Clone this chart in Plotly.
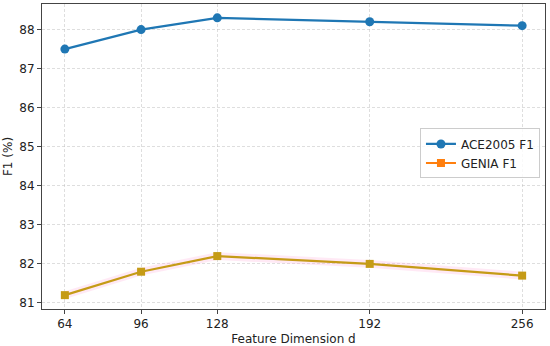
import plotly.graph_objects as go

dims = [64, 96, 128, 192, 256]
ace_f1 = [87.5, 88.0, 88.3, 88.2, 88.1]
genia_f1 = [81.2, 81.8, 82.2, 82.0, 81.7]
genia_band = 0.1
x_ticks = [64, 96, 128, 192, 256]
y_ticks = [81, 82, 83, 84, 85, 86, 87, 88]

fig = go.Figure()

# faint band around GENIA
fig.add_trace(go.Scatter(x=dims, y=[v + genia_band for v in genia_f1], mode='lines',
                         line=dict(width=0), showlegend=False, hoverinfo='skip'))
fig.add_trace(go.Scatter(x=dims, y=[v - genia_band for v in genia_f1], mode='lines',
                         line=dict(width=0), fill='tonexty',
                         fillcolor='rgba(255,182,222,0.3)', showlegend=False, hoverinfo='skip'))

fig.add_trace(go.Scatter(x=dims, y=ace_f1, mode='lines+markers', name='ACE2005 F1',
                         line=dict(color='#1f77b4', width=2.2),
                         marker=dict(symbol='circle', size=9, color='#1f77b4')))
fig.add_trace(go.Scatter(x=dims, y=genia_f1, mode='lines+markers', name='GENIA F1',
                         line=dict(color='#c59b16', width=2.2),
                         marker=dict(symbol='square', size=8, color='#c59b16'),
                         showlegend=False))
# legend entry in orange
fig.add_trace(go.Scatter(x=[None], y=[None], mode='lines+markers', name='GENIA F1',
                         line=dict(color='#ff7f0e', width=2),
                         marker=dict(symbol='square', size=8, color='#ff7f0e')))

axis_common = dict(showline=True, linecolor='#444', linewidth=1, mirror=True,
                   ticks='outside', ticklen=4, tickcolor='#444',
                   showgrid=True, gridcolor='rgba(190,190,190,0.5)', griddash='3px,2px',
                   zeroline=False, tickfont=dict(size=12, color='#222'), automargin=False)

fig.update_layout(
    width=550, height=346,
    margin=dict(l=42, r=5, t=4, b=37),
    paper_bgcolor='white', plot_bgcolor='white',
    font=dict(family='DejaVu Sans', size=12, color='#222'),
    xaxis=dict(range=[54.4, 265.6], tickvals=x_ticks,
               title=dict(text='Feature Dimension d', font=dict(size=12), standoff=4),
               **axis_common),
    yaxis=dict(range=[80.845, 88.655], tickvals=y_ticks,
               title=dict(text='F1 (%)', font=dict(size=12), standoff=4),
               **axis_common),
    legend=dict(x=0.99, xanchor='right', y=0.51, yanchor='middle',
                bgcolor='rgba(255,255,255,0.8)', bordercolor='#ccc', borderwidth=1,
                font=dict(size=12), tracegroupgap=0, traceorder='normal',
                itemwidth=30),
)

fig.write_html('out.html', config={'displayModeBar': False},
               post_script="document.body.style.margin='0';")
